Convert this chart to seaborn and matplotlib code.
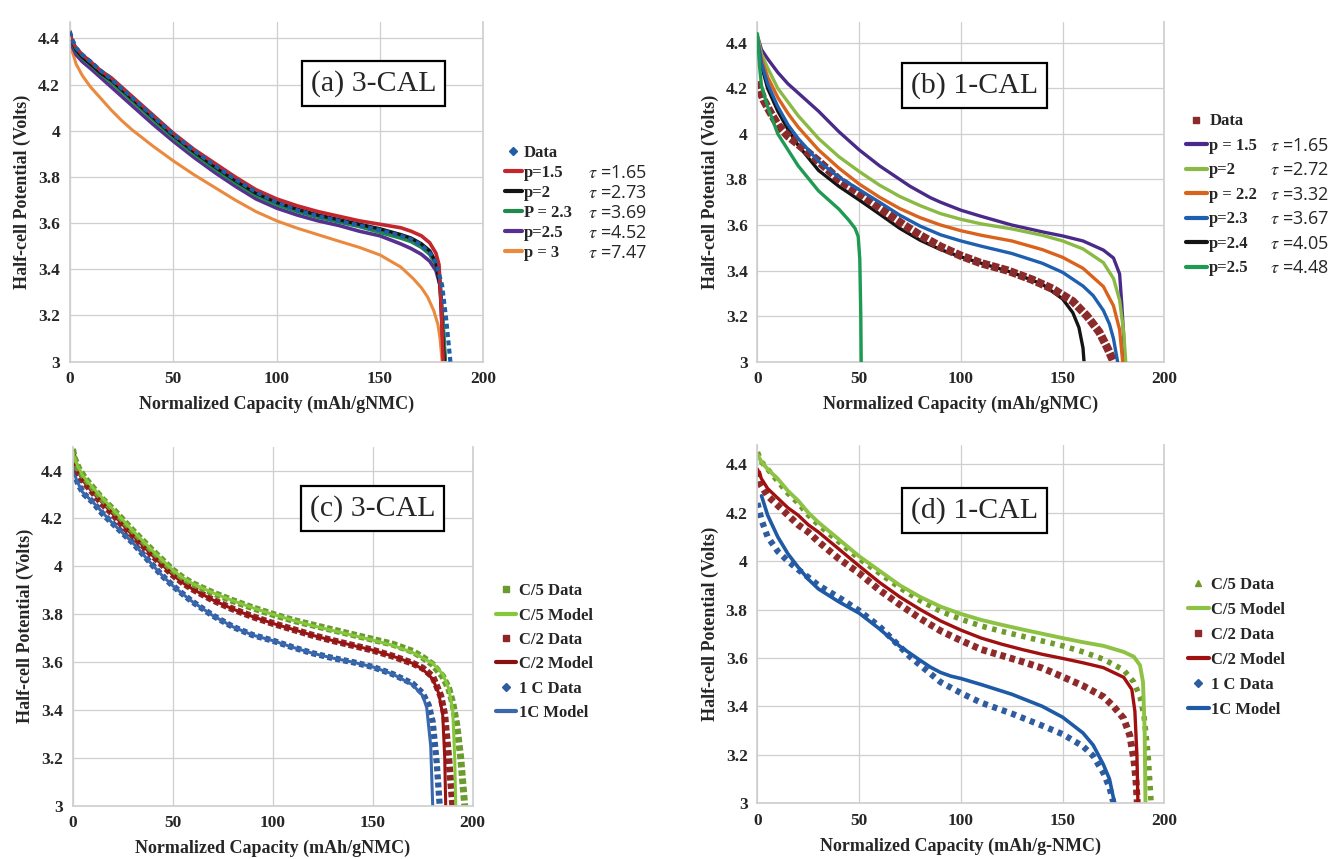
import matplotlib
matplotlib.use("Agg")
import matplotlib.pyplot as plt
from matplotlib.lines import Line2D
from matplotlib.ticker import FuncFormatter
import seaborn as sns

# ---- panel (a) 3-CAL, fitted p / tau ----
a_data_x = [0, 1, 3, 6, 10, 15, 20, 25, 30, 40, 50, 60, 70, 80, 90, 100, 110, 120, 130, 140, 150, 160, 165, 170, 174, 177, 180, 182, 184]
a_data_v = [4.43, 4.4, 4.36, 4.33, 4.3, 4.26, 4.225, 4.185, 4.145, 4.065, 3.985, 3.915, 3.85, 3.79, 3.735, 3.69, 3.655, 3.63, 3.61, 3.59, 3.57, 3.545, 3.53, 3.505, 3.47, 3.43, 3.33, 3.18, 3.0]
a_p15_x = [0, 1, 3, 6, 10, 15, 20, 25, 30, 40, 50, 60, 70, 80, 90, 100, 110, 120, 130, 140, 150, 160, 165, 170, 174, 177, 178.5, 179.5, 180.5]
a_p15_v = [4.43, 4.39, 4.36, 4.33, 4.3, 4.26, 4.23, 4.19, 4.15, 4.07, 3.99, 3.92, 3.86, 3.8, 3.745, 3.705, 3.675, 3.65, 3.63, 3.61, 3.595, 3.58, 3.565, 3.545, 3.515, 3.47, 3.42, 3.25, 3.0]
a_p2_x = [0, 1, 3, 6, 10, 15, 20, 25, 30, 40, 50, 60, 70, 80, 90, 100, 110, 120, 130, 140, 150, 160, 165, 170, 174, 177, 179, 180, 181]
a_p2_v = [4.43, 4.39, 4.35, 4.32, 4.29, 4.25, 4.22, 4.18, 4.14, 4.06, 3.98, 3.91, 3.845, 3.785, 3.73, 3.69, 3.66, 3.635, 3.615, 3.595, 3.575, 3.55, 3.535, 3.51, 3.48, 3.43, 3.33, 3.15, 3.0]
a_p23_x = [0, 1, 3, 6, 10, 15, 20, 25, 30, 40, 50, 60, 70, 80, 90, 100, 110, 120, 130, 140, 150, 160, 165, 170, 174, 177, 179, 180.5, 181.5]
a_p23_v = [4.43, 4.385, 4.345, 4.315, 4.285, 4.245, 4.21, 4.17, 4.13, 4.05, 3.97, 3.9, 3.835, 3.775, 3.72, 3.68, 3.65, 3.625, 3.605, 3.585, 3.56, 3.535, 3.52, 3.495, 3.465, 3.42, 3.35, 3.15, 3.0]
a_p25_x = [0, 1, 3, 6, 10, 15, 20, 25, 30, 40, 50, 60, 70, 80, 90, 100, 110, 120, 130, 140, 150, 160, 165, 170, 174, 177, 179, 180.5, 181.5]
a_p25_v = [4.42, 4.37, 4.33, 4.3, 4.27, 4.23, 4.19, 4.15, 4.11, 4.03, 3.955, 3.885, 3.82, 3.76, 3.705, 3.665, 3.635, 3.61, 3.59, 3.565, 3.545, 3.51, 3.49, 3.465, 3.435, 3.395, 3.33, 3.15, 3.0]
a_p3_x = [0, 1, 3, 6, 10, 15, 20, 25, 30, 40, 50, 60, 70, 80, 90, 100, 110, 120, 130, 140, 150, 160, 166, 170, 173, 176, 178, 179, 180]
a_p3_v = [4.41, 4.35, 4.29, 4.24, 4.19, 4.14, 4.09, 4.045, 4.005, 3.935, 3.87, 3.81, 3.755, 3.7, 3.65, 3.61, 3.578, 3.55, 3.522, 3.495, 3.462, 3.41, 3.36, 3.32, 3.28, 3.22, 3.16, 3.1, 3.0]
a_labels = ["p=1.5", "p=2", "P = 2.3", "p=2.5", "p = 3"]
a_taus = ["1.65", "2.73", "3.69", "4.52", "7.47"]

# ---- panel (b) 1-CAL, fitted p / tau ----
b_data_x = [0, 1, 3, 6, 10, 15, 20, 30, 40, 50, 60, 72, 80, 90, 100, 110, 123, 135, 145, 155, 162, 168, 172, 175]
b_data_v = [4.23, 4.2, 4.15, 4.1, 4.04, 3.99, 3.955, 3.88, 3.8, 3.74, 3.675, 3.6, 3.555, 3.505, 3.465, 3.432, 3.4, 3.36, 3.32, 3.265, 3.2, 3.13, 3.06, 3.0]
b_p15_x = [0, 2, 5, 10, 15, 20, 30, 40, 50, 60, 70, 75, 80, 85, 90, 100, 110, 125, 140, 150, 160, 170, 175, 178, 179, 180, 180.5]
b_p15_v = [4.43, 4.37, 4.33, 4.27, 4.22, 4.18, 4.1, 4.01, 3.93, 3.86, 3.8, 3.77, 3.745, 3.72, 3.7, 3.665, 3.638, 3.6, 3.57, 3.552, 3.53, 3.49, 3.455, 3.385, 3.26, 3.11, 3.0]
b_p2_x = [0, 2, 5, 10, 15, 20, 30, 40, 50, 60, 70, 80, 90, 100, 110, 125, 140, 150, 160, 170, 175, 178, 180, 181]
b_p2_v = [4.43, 4.35, 4.29, 4.2, 4.14, 4.08, 3.98, 3.9, 3.835, 3.775, 3.725, 3.685, 3.65, 3.625, 3.605, 3.583, 3.555, 3.53, 3.495, 3.435, 3.365, 3.27, 3.13, 3.0]
b_p22_x = [0, 2, 5, 10, 15, 20, 30, 40, 50, 60, 70, 80, 90, 100, 110, 125, 140, 150, 160, 170, 175, 178, 179.5]
b_p22_v = [4.42, 4.33, 4.25, 4.16, 4.09, 4.03, 3.93, 3.85, 3.78, 3.722, 3.672, 3.632, 3.6, 3.575, 3.555, 3.53, 3.492, 3.458, 3.41, 3.33, 3.245, 3.14, 3.0]
b_p23_x = [0, 2, 5, 10, 15, 20, 30, 40, 50, 60, 70, 80, 90, 100, 110, 125, 140, 150, 160, 165, 170, 173, 175, 177]
b_p23_v = [4.42, 4.31, 4.22, 4.12, 4.04, 3.98, 3.88, 3.81, 3.755, 3.7, 3.643, 3.595, 3.557, 3.53, 3.507, 3.475, 3.432, 3.392, 3.332, 3.29, 3.225, 3.165, 3.1, 3.0]
b_p24_x = [0, 2, 5, 10, 15, 20, 30, 40, 50, 60, 70, 80, 90, 100, 110, 125, 140, 150, 155, 158, 160, 160.5]
b_p24_v = [4.42, 4.3, 4.2, 4.1, 4.02, 3.95, 3.84, 3.77, 3.71, 3.648, 3.585, 3.533, 3.492, 3.46, 3.432, 3.392, 3.34, 3.275, 3.215, 3.15, 3.06, 3.0]
b_p25_x = [0, 1, 2, 5, 10, 20, 30, 40, 45, 48, 49.5, 50.3, 50.8, 51]
b_p25_v = [4.44, 4.3, 4.21, 4.12, 4.0, 3.86, 3.75, 3.67, 3.62, 3.585, 3.55, 3.45, 3.2, 3.0]
b_labels = ["p = 1.5", "p=2", "p = 2.2", "p=2.3", "p=2.4", "p=2.5"]
b_taus = ["1.65", "2.72", "3.32", "3.67", "4.05", "4.48"]

# ---- panel (c) 3-CAL, rate comparison ----
c_c5d_x = [0, 1, 3, 6, 10, 15, 20, 25, 30, 40, 45, 50, 55, 60, 70, 80, 90, 100, 110, 120, 130, 140, 150, 160, 170, 175, 180, 185, 188, 190, 192, 194, 196]
c_c5d_v = [4.49, 4.45, 4.41, 4.37, 4.33, 4.28, 4.24, 4.195, 4.15, 4.065, 4.025, 3.985, 3.953, 3.928, 3.89, 3.857, 3.827, 3.8, 3.775, 3.755, 3.735, 3.715, 3.695, 3.675, 3.645, 3.62, 3.59, 3.54, 3.49, 3.43, 3.34, 3.2, 3.0]
c_c5m_x = [0, 2, 5, 10, 20, 30, 40, 45, 50, 55, 60, 70, 80, 90, 100, 110, 120, 130, 140, 150, 160, 170, 180, 185, 188, 190, 191, 191.5]
c_c5m_v = [4.48, 4.43, 4.38, 4.33, 4.24, 4.15, 4.065, 4.025, 3.985, 3.953, 3.928, 3.89, 3.857, 3.827, 3.8, 3.775, 3.752, 3.732, 3.712, 3.692, 3.67, 3.64, 3.595, 3.55, 3.49, 3.4, 3.2, 3.0]
c_c2d_x = [0, 1, 3, 6, 10, 15, 20, 25, 30, 40, 45, 50, 55, 60, 70, 80, 90, 100, 110, 120, 130, 140, 150, 160, 170, 175, 180, 184, 186, 188, 189, 190]
c_c2d_v = [4.47, 4.43, 4.39, 4.35, 4.31, 4.26, 4.22, 4.17, 4.13, 4.045, 4.005, 3.965, 3.932, 3.905, 3.86, 3.822, 3.79, 3.762, 3.737, 3.712, 3.69, 3.67, 3.65, 3.625, 3.595, 3.575, 3.54, 3.46, 3.38, 3.2, 3.1, 3.0]
c_c2m_x = [0, 2, 5, 10, 20, 30, 40, 45, 50, 55, 60, 70, 80, 90, 100, 110, 120, 130, 140, 150, 160, 170, 175, 180, 183, 185, 186, 186.5]
c_c2m_v = [4.46, 4.41, 4.36, 4.31, 4.22, 4.13, 4.045, 4.005, 3.965, 3.932, 3.905, 3.86, 3.822, 3.79, 3.762, 3.737, 3.712, 3.69, 3.67, 3.65, 3.625, 3.595, 3.57, 3.53, 3.47, 3.38, 3.2, 3.0]
c_1cd_x = [0, 1, 3, 6, 10, 15, 20, 25, 30, 40, 45, 50, 55, 60, 70, 80, 90, 100, 110, 120, 130, 140, 150, 160, 165, 170, 175, 178, 180, 182, 183.5]
c_1cd_v = [4.43, 4.39, 4.34, 4.3, 4.27, 4.22, 4.18, 4.14, 4.1, 4.005, 3.96, 3.92, 3.885, 3.852, 3.795, 3.748, 3.713, 3.69, 3.662, 3.637, 3.617, 3.6, 3.58, 3.55, 3.53, 3.51, 3.47, 3.42, 3.35, 3.18, 3.0]
c_1cm_x = [0, 2, 5, 10, 20, 30, 40, 45, 50, 55, 60, 70, 80, 90, 100, 110, 120, 130, 140, 150, 160, 170, 175, 177, 179, 180]
c_1cm_v = [4.42, 4.36, 4.31, 4.27, 4.18, 4.1, 4.005, 3.96, 3.92, 3.885, 3.852, 3.795, 3.748, 3.713, 3.69, 3.662, 3.637, 3.617, 3.6, 3.58, 3.55, 3.505, 3.46, 3.41, 3.25, 3.0]

# ---- panel (d) 1-CAL, rate comparison ----
d_c5d_x = [0, 2, 5, 10, 15, 20, 25, 30, 40, 50, 60, 70, 80, 90, 100, 110, 120, 130, 140, 150, 160, 170, 180, 185, 188, 190, 192, 193.5]
d_c5d_v = [4.45, 4.41, 4.38, 4.33, 4.28, 4.24, 4.19, 4.15, 4.08, 4.01, 3.95, 3.89, 3.837, 3.793, 3.76, 3.732, 3.71, 3.69, 3.67, 3.65, 3.625, 3.595, 3.55, 3.5, 3.44, 3.36, 3.2, 3.0]
d_c5m_x = [0, 2, 5, 10, 15, 20, 25, 30, 40, 50, 60, 70, 80, 90, 100, 110, 120, 130, 140, 150, 160, 170, 180, 185, 188, 189.5, 190.3, 190.7]
d_c5m_v = [4.44, 4.41, 4.38, 4.34, 4.29, 4.25, 4.2, 4.16, 4.09, 4.02, 3.96, 3.9, 3.852, 3.812, 3.782, 3.757, 3.737, 3.718, 3.7, 3.682, 3.665, 3.65, 3.625, 3.605, 3.57, 3.5, 3.3, 3.0]
d_c2d_x = [0, 2, 5, 10, 15, 20, 25, 30, 40, 50, 60, 70, 80, 90, 100, 110, 120, 130, 140, 150, 160, 170, 175, 180, 183, 185, 186, 186.7]
d_c2d_v = [4.37, 4.31, 4.27, 4.23, 4.19, 4.15, 4.12, 4.08, 4.01, 3.95, 3.88, 3.82, 3.763, 3.712, 3.672, 3.635, 3.61, 3.585, 3.558, 3.522, 3.485, 3.44, 3.4, 3.35, 3.28, 3.18, 3.1, 3.0]
d_c2m_x = [0, 2, 5, 10, 15, 20, 25, 30, 40, 50, 60, 70, 80, 90, 100, 110, 120, 130, 140, 150, 160, 170, 180, 184, 185.5, 186.5, 187]
d_c2m_v = [4.38, 4.34, 4.3, 4.26, 4.22, 4.19, 4.15, 4.12, 4.05, 3.98, 3.912, 3.852, 3.8, 3.753, 3.715, 3.682, 3.657, 3.635, 3.615, 3.598, 3.58, 3.56, 3.52, 3.47, 3.38, 3.2, 3.0]
d_1cd_x = [0, 2, 5, 10, 15, 20, 25, 30, 40, 50, 60, 75, 90, 100, 110, 125, 140, 150, 160, 165, 170, 173, 175]
d_1cd_v = [4.24, 4.17, 4.1, 4.04, 4.0, 3.965, 3.933, 3.9, 3.85, 3.795, 3.73, 3.605, 3.5, 3.455, 3.415, 3.37, 3.32, 3.285, 3.235, 3.195, 3.125, 3.065, 3.0]
d_1cm_x = [2, 5, 10, 15, 20, 25, 30, 40, 50, 60, 70, 80, 85, 90, 95, 100, 110, 125, 140, 150, 160, 165, 170, 173, 175.5]
d_1cm_v = [4.27, 4.19, 4.1, 4.03, 3.975, 3.925, 3.885, 3.832, 3.785, 3.72, 3.648, 3.59, 3.562, 3.54, 3.525, 3.515, 3.49, 3.45, 3.4, 3.355, 3.29, 3.24, 3.16, 3.1, 3.0]
cd_labels = ["C/5 Data", "C/5 Model", "C/2 Data", "C/2 Model", "1 C Data", "1C Model"]

y_ticks = [3, 3.2, 3.4, 3.6, 3.8, 4, 4.2, 4.4]
x_ticks = [0, 50, 100, 150, 200]

sns.set_theme(style="whitegrid")
plt.rcParams["font.family"] = ["Liberation Serif", "DejaVu Serif"]
plt.rcParams["mathtext.fontset"] = "stix"

SERIF = "Liberation Serif"
GRID = "#cfcfcf"

fig = plt.figure(figsize=(13.43, 8.59), dpi=100)


def make_axes(rect, ytop, xlabel, tag, tag_xy):
    ax = fig.add_axes(rect)
    ax.set_xlim(0, 200)
    ax.set_ylim(3, ytop)
    ax.set_xticks(x_ticks)
    ax.set_yticks(y_ticks)
    ax.yaxis.set_major_formatter(FuncFormatter(lambda v, p: f"{v:g}"))
    ax.grid(True, color=GRID, lw=0.9)
    for s in ["left", "bottom", "right"]:
        ax.spines[s].set_color(GRID)
    ax.spines["top"].set_visible(False)
    ax.tick_params(length=0, pad=7)
    for lab in ax.get_xticklabels() + ax.get_yticklabels():
        lab.set_fontfamily(SERIF)
        lab.set_fontweight("bold")
        lab.set_fontsize(12.5)
    ax.set_xlabel(xlabel, fontfamily=SERIF, fontweight="bold", fontsize=13, labelpad=6)
    ax.set_ylabel("Half-cell Potential (Volts)", fontfamily=SERIF, fontweight="bold",
                  fontsize=13, labelpad=5)
    ax.text(tag_xy[0], tag_xy[1], tag, transform=ax.transAxes, ha="center", va="center",
            fontfamily=SERIF, fontsize=21.5, zorder=10,
            bbox=dict(boxstyle="square,pad=0.3", fc="white", ec="black", lw=1.6))
    return ax


def line(ax, x, y, color, lw=2.5, ls="-", z=2):
    sns.lineplot(x=x, y=y, ax=ax, color=color, lw=lw, ls=ls, sort=False,
                 estimator=None, zorder=z)


def add_legend(ax, handles, labels, anchor, size, spacing, hl=1.25):
    leg = ax.legend(handles, labels, loc="upper left", bbox_to_anchor=anchor,
                    bbox_transform=fig.transFigure, frameon=False,
                    prop=dict(family=SERIF, weight="bold", size=size),
                    handlelength=hl, handletextpad=0.15, labelspacing=spacing,
                    borderpad=0, borderaxespad=0)
    return leg


def add_taus(leg, taus, xfig, size):
    fig.canvas.draw()
    inv = fig.transFigure.inverted()
    for t, tau in zip(leg.get_texts()[1:], taus):
        bb = t.get_window_extent()
        yf = inv.transform((0, (bb.y0 + bb.y1) / 2))[1]
        fig.text(xfig, yf, r"$\tau$ =" + tau, va="center", ha="left",
                 fontfamily="Open Sans", fontsize=size)


# ---- (a) ----
a_cols = ["#c4262e", "#141414", "#1f8a4c", "#58308f", "#ea8a3e"]
ax_a = make_axes([0.052, 0.579, 0.308, 0.395], 4.47,
                 "Normalized Capacity (mAh/gNMC)", "(a) 3-CAL", (0.734, 0.82))
line(ax_a, a_p3_x, a_p3_v, a_cols[4], lw=2.2)
line(ax_a, a_p25_x, a_p25_v, a_cols[3], lw=2.6)
line(ax_a, a_p23_x, a_p23_v, a_cols[2], lw=2.6)
line(ax_a, a_p2_x, a_p2_v, a_cols[1], lw=2.6)
line(ax_a, a_p15_x, a_p15_v, a_cols[0], lw=2.6)
line(ax_a, a_data_x, a_data_v, "#1e5fa6", lw=3.0, ls=(0, (1.2, 0.8)), z=3)
h_a = [Line2D([], [], ls="none", marker="D", ms=4, color="#1e5fa6")] + \
      [Line2D([], [], color=c, lw=3) for c in a_cols]
leg_a = add_legend(ax_a, h_a, ["Data"] + a_labels, (0.376, 0.831), 12, 0.24, hl=1.0)

# ---- (b) ----
b_cols = ["#4a2a88", "#8ab944", "#d9621c", "#1f5fb0", "#141414", "#1e9a52"]
ax_b = make_axes([0.564, 0.579, 0.303, 0.395], 4.49,
                 "Normalized Capacity (mAh/gNMC)", "(b) 1-CAL", (0.533, 0.815))
line(ax_b, b_data_x, b_data_v, "#8b2a2a", lw=6, ls=(0, (0.9, 0.25)), z=2)
line(ax_b, b_p15_x, b_p15_v, b_cols[0], lw=2.4, z=3)
line(ax_b, b_p2_x, b_p2_v, b_cols[1], lw=2.4, z=3)
line(ax_b, b_p22_x, b_p22_v, b_cols[2], lw=2.4, z=3)
line(ax_b, b_p23_x, b_p23_v, b_cols[3], lw=2.4, z=3)
line(ax_b, b_p24_x, b_p24_v, b_cols[4], lw=2.4, z=1.5)
line(ax_b, b_p25_x, b_p25_v, b_cols[5], lw=2.4, z=3)
h_b = [Line2D([], [], ls="none", marker="s", ms=5, color="#8b2a2a")] + \
      [Line2D([], [], color=c, lw=3) for c in b_cols]
leg_b = add_legend(ax_b, h_b, ["Data"] + b_labels, (0.883, 0.868), 12, 0.51)

# ---- (c) ----
ax_c = make_axes([0.054, 0.062, 0.298, 0.418], 4.5,
                 "Normalized Capacity (mAh/gNMC)", "(c) 3-CAL", (0.75, 0.827))
line(ax_c, c_1cd_x, c_1cd_v, "#2e5c9e", lw=4.5, ls=(0, (0.8, 0.5)))
line(ax_c, c_1cm_x, c_1cm_v, "#3a68ae", lw=2.2)
line(ax_c, c_c2d_x, c_c2d_v, "#8e2626", lw=5, ls=(0, (0.8, 0.4)))
line(ax_c, c_c2m_x, c_c2m_v, "#9a1212", lw=2.2)
line(ax_c, c_c5d_x, c_c5d_v, "#6b9a2e", lw=5, ls=(0, (0.8, 0.4)))
line(ax_c, c_c5m_x, c_c5m_v, "#86c83c", lw=2.2)
h_c = [Line2D([], [], ls="none", marker="s", ms=5, color="#6b9a2e"),
       Line2D([], [], color="#86c83c", lw=3),
       Line2D([], [], ls="none", marker="s", ms=5, color="#8e2626"),
       Line2D([], [], color="#8a0f0f", lw=3),
       Line2D([], [], ls="none", marker="D", ms=4, color="#2e5c9e"),
       Line2D([], [], color="#3a68ae", lw=3)]
leg_c = add_legend(ax_c, h_c, cd_labels, (0.369, 0.321), 12, 0.5)

# ---- (d) ----
ax_d = make_axes([0.564, 0.065, 0.303, 0.417], 4.48,
                 "Normalized Capacity (mAh/g-NMC)", "(d) 1-CAL", (0.533, 0.816))
line(ax_d, d_1cd_x, d_1cd_v, "#2e5c9e", lw=4.5, ls=(0, (0.8, 0.8)))
line(ax_d, d_1cm_x, d_1cm_v, "#1f5aa6", lw=2.6)
line(ax_d, d_c2d_x, d_c2d_v, "#8e2a2a", lw=5, ls=(0, (0.8, 0.6)))
line(ax_d, d_c2m_x, d_c2m_v, "#a01010", lw=2.4)
line(ax_d, d_c5d_x, d_c5d_v, "#6f9a2c", lw=4, ls=(0, (0.8, 1.0)))
line(ax_d, d_c5m_x, d_c5m_v, "#8ec244", lw=2.8)
h_d = [Line2D([], [], ls="none", marker="^", ms=5, color="#6f9a2c"),
       Line2D([], [], color="#8ec244", lw=3),
       Line2D([], [], ls="none", marker="s", ms=5, color="#8e2a2a"),
       Line2D([], [], color="#a01010", lw=3),
       Line2D([], [], ls="none", marker="D", ms=4, color="#2e5c9e"),
       Line2D([], [], color="#1f5aa6", lw=3)]
leg_d = add_legend(ax_d, h_d, cd_labels, (0.8846, 0.328), 12, 0.54)

add_taus(leg_a, a_taus, 0.438, 13)
add_taus(leg_b, b_taus, 0.9457, 13)

fig.savefig("out.png", dpi=100)
